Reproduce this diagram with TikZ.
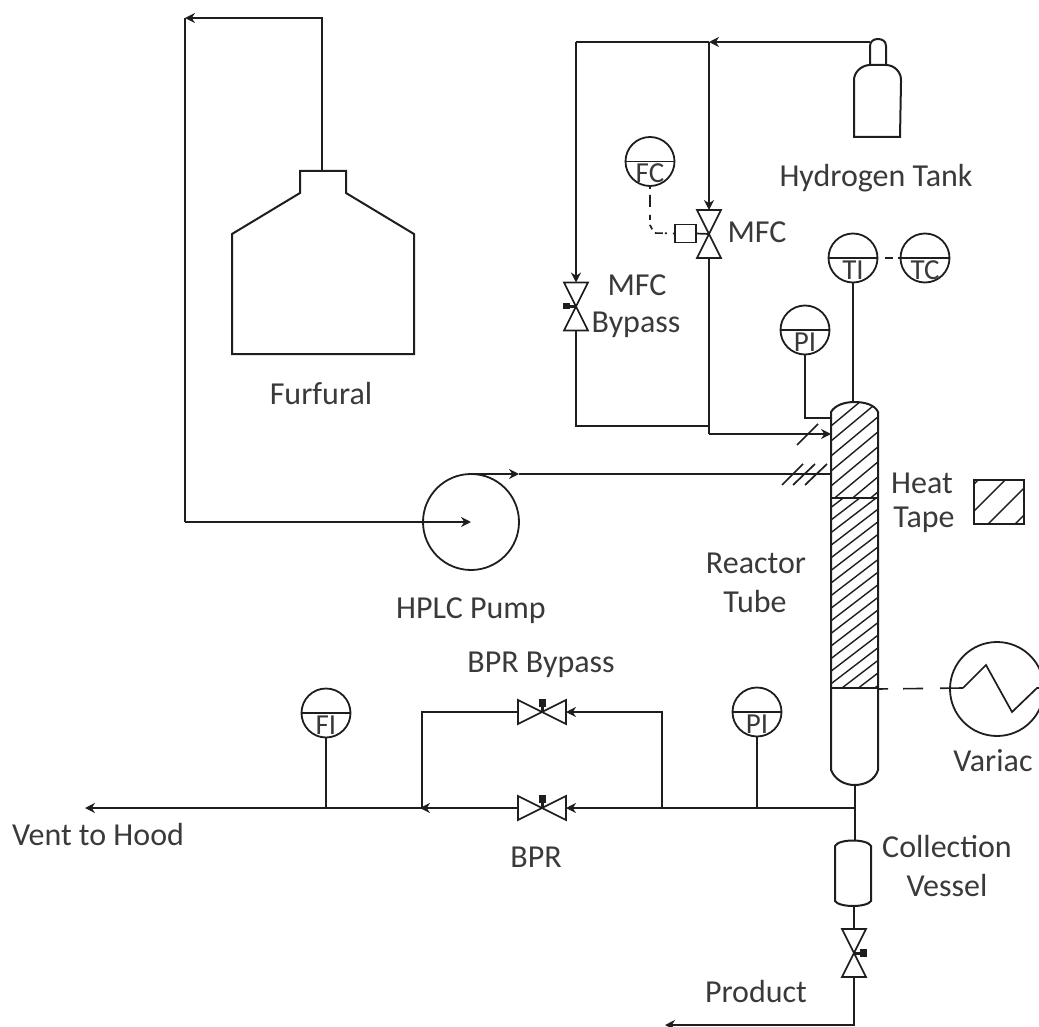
\documentclass[tikz,border=0pt]{standalone}
\usepackage{fontspec}
\setmainfont{Carlito}
\usetikzlibrary{arrows.meta}
\definecolor{lbl}{HTML}{3A3A3A}
\definecolor{ink}{HTML}{1E1E1E}
\tikzset{
  pipe/.style={draw=ink,line width=2pt,line join=miter},
  thin pipe/.style={draw=ink,line width=1.7pt},
  hatchline/.style={draw=ink,line width=1.4pt},
  dashline/.style={draw=ink,line width=1.6pt},
  tip/.style={-{Stealth[length=10pt,width=10pt]}},
  lab/.style={text=lbl,font=\fontsize{32}{36}\selectfont,inner sep=0pt},
  instlab/.style={text=lbl,font=\fontsize{29}{32}\selectfont,inner sep=0pt},
  inst/.style={circle,draw=ink,line width=1.8pt,minimum size=49pt,inner sep=0pt},
  hole/.style={inner sep=0pt,outer sep=0pt},
}
\newcommand{\myinst}[4]{%
  \node[inst] (#1) at (#2,#3) {};
  \draw[thin pipe] (#1.west) -- (#1.east);
  \node[instlab,anchor=center] (#1t) at (#2,#3+12) {#4};
}
\newcommand{\myvv}[3]{% vertical flow bowtie
  \node[hole,minimum width=24pt,minimum height=48pt] (#1) at (#2,#3) {};
  \draw[thin pipe,line join=miter] (#1.north west) -- (#1.north east) -- (#1.south west) -- (#1.south east) -- cycle;
}
\newcommand{\myhv}[3]{% horizontal flow bowtie with top actuator
  \node[hole,minimum width=48pt,minimum height=24pt] (#1) at (#2,#3) {};
  \draw[thin pipe,line join=miter] (#1.north west) -- (#1.south east) -- (#1.north east) -- (#1.south west) -- cycle;
  \fill[ink] (#2-3.5,#3-13) rectangle (#2+3.5,#3-5);
  \fill[ink] (#2-1.5,#3-6) rectangle (#2+1.5,#3);
}
\begin{document}
\begin{tikzpicture}[x=1pt,y=-1pt]
\useasboundingbox (0,0) rectangle (1039,1027);
\clip (0,0) rectangle (1039,1027);

% ---------- furfural
\node[hole,minimum width=182pt,minimum height=183pt] (furf) at (323,262.5) {};
\draw[pipe] (232,234) -- (300,193) -- (300,171) -- (346,171) -- (346,193) -- (414,234) -- (414,354) -- (232,354) -- cycle;
\node[circle,draw=ink,line width=1.8pt,minimum size=96pt,inner sep=0pt] (pump) at (471,522) {};
\coordinate (pumpc) at (471,522);
\coordinate (fl) at (185,522);
\coordinate (fu) at (185,18);
\coordinate (fr) at (322,18);
\draw[pipe,tip] (furf.north -| fr) -- (fr) -- (fu);
\draw[pipe] (fu) -- (fl);
\draw[pipe,tip] (fl) -- (pumpc);

% ---------- reactor
\node[hole,minimum width=47pt,minimum height=383pt] (reactor) at (854.5,593.5) {};
\begin{scope}
\clip (831,412) .. controls (835,405) and (845,402) .. (854.5,402) .. controls (865,402) and (875,405) .. (878,412) -- (878,498) -- (831,498) -- cycle;
\foreach \k in {0,...,9}
  \draw[hatchline] (825,{416+15*\k}) -- ++(60,-50);
\end{scope}
\begin{scope}
\clip (831,498) rectangle (878,688);
\foreach \k in {0,...,20}
  \draw[hatchline] (825,{512+12.6*\k}) -- ++(60,-46);
\end{scope}
\draw[pipe] (831,412) .. controls (835,405) and (845,402) .. (854.5,402) .. controls (865,402) and (875,405) .. (878,412) -- (878,770) .. controls (875,780) and (865,785) .. (854.5,785) .. controls (845,785) and (835,780) .. (831,770) -- cycle;
\draw[pipe] (831,498) -- (878,498);
\draw[pipe] (831,688) -- (878,688);

% ---------- heat tape legend
\node[hole,minimum width=50pt,minimum height=44pt] (tape) at (999,502) {};
\begin{scope}
\clip (974,480) rectangle (1024,524);
\foreach \k in {0,...,3}
  \draw[hatchline] (970,{488+27*\k}) -- ++(60,-60);
\end{scope}
\draw[pipe] (974,480) rectangle (1024,524);

% ---------- hydrogen tank
\node[hole,minimum width=46pt,minimum height=98pt] (tank) at (877,88) {};
\draw[pipe] (870,65) -- (870,46) .. controls (870,41) and (874,39) .. (878,39) .. controls (882,39) and (886,41) .. (886,46) -- (886,65);
\draw[pipe] (854,137) -- (854,82) .. controls (853,72) and (862,65) .. (870,65) -- (886,65) .. controls (894,65) and (902,72) .. (901,82) -- (900,137) -- cycle;

% ---------- hydrogen lines
\myvv{mfc}{709}{234}
\myvv{mfcb}{576}{306.5}
\coordinate (topj) at (709,42);
\coordinate (topl) at (576,42);
\coordinate (midj) at (709,426);
\coordinate (midl) at (576,426);
\coordinate (lowj) at (709,434);
\draw[pipe,tip] (870,42) -- (topj);
\draw[pipe] (topj) -- (topl);
\draw[pipe,tip] (topj) -- (mfc.north);
\draw[pipe,tip] (topl) -- (mfcb.north);
\draw[pipe] (mfcb.south) -- (midl) -- (midj);
\draw[pipe] (mfc.south) -- (lowj);
\draw[pipe,tip] (lowj) -- (reactor.west |- lowj);
\draw[thin pipe] (797,445) -- (818,424);
% mfc actuator
\node[hole,draw=ink,line width=1.7pt,minimum width=21pt,minimum height=18pt] (mfcact) at (685.5,233.5) {};
\draw[thin pipe] (mfcact.east) -- (mfc.center);
% mfc bypass actuator
\fill[ink] (563,303) rectangle (570,309);
\fill[ink] (569,305) rectangle (576,308);

% ---------- instruments
\myinst{fc}{650}{161.5}{FC}
\myinst{ti}{853}{258}{TI}
\myinst{tc}{925}{258}{TC}
\myinst{pia}{805}{330}{PI}
\myinst{pib}{757}{712}{PI}
\myinst{fi}{326}{713}{FI}
\draw[dashline,dash pattern=on 2pt off 6pt on 12pt off 8pt on 5pt off 5pt on 5pt off 5pt on 8pt off 2pt] (fc.south) -- (650,225) -- (654,233) -- (mfcact.west);
\draw[dashline,dash pattern=on 0pt off 7pt on 8pt off 5pt on 8pt off 30pt] (ti.east) -- (tc.west);
\draw[pipe] (ti.south) -- (ti.south |- reactor.north);
\coordinate (piaj) at (805,418);
\draw[pipe] (pia.south) -- (piaj) -- (reactor.west |- piaj);

% ---------- pump line
\coordinate (pumpt) at (471,474);
\coordinate (pumpa) at (519,474);
\draw[pipe,tip] (pumpt) -- (pumpa);
\draw[pipe] (pumpa) -- (reactor.west |- pumpa);
\draw[thin pipe] (782,485) -- (803,464);
\draw[thin pipe] (793,485) -- (815,464);
\draw[thin pipe] (805,485) -- (827,464);

% ---------- variac
\node[circle,draw=ink,line width=1.8pt,minimum size=94pt,inner sep=0pt] (variac) at (997,689) {};
\draw[thin pipe] (963,688) -- (986,665) -- (1012,712) -- (1037,688) -- (1045,688);
\draw[dashline,dash pattern=on 10pt off 15pt on 20pt off 17pt on 30pt] (reactor.east |- variac.west) -- (963,688);

% ---------- bottom line
\coordinate (botj) at (855,808);
\coordinate (byr) at (662,808);
\coordinate (byl) at (422,808);
\coordinate (byrt) at (662,712);
\coordinate (bylt) at (422,712);
\coordinate (vent) at (85,808);
\myhv{bpr}{542}{808}
\myhv{bprb}{542}{712}
\draw[pipe] (reactor.south -| botj) -- (botj);
\draw[pipe,tip] (botj) -- (bpr.east);
\draw[pipe,tip] (byr) -- (byrt) -- (bprb.east);
\draw[pipe] (bprb.west) -- (bylt) -- (byl);
\draw[pipe] (bpr.west) -- (byl);
\draw[pipe,tip] (427,808) -- (420,808);
\draw[pipe,tip] (byl) -- (vent);
\draw[pipe] (pib.south) -- (pib.south |- botj);
\draw[pipe] (fi.south) -- (fi.south |- botj);

% ---------- collection vessel
\node[hole,minimum width=36pt,minimum height=66pt] (coll) at (853,873) {};
\draw[pipe] (835,846) .. controls (837,842) and (846,840.5) .. (853,840.5) .. controls (860,840.5) and (869,842) .. (871,846) -- (871,901) .. controls (869,904.5) and (860,906) .. (853,906) .. controls (846,906) and (837,904.5) .. (835,901) -- cycle;
\draw[pipe] (botj) -- (botj |- coll.north);
\myvv{prodv}{854}{953}
\fill[ink] (860,949) rectangle (867,957);
\fill[ink] (854,951.5) rectangle (861,954.5);
\coordinate (prodc) at (854,1025);
\coordinate (prode) at (665,1025);
\draw[pipe] (coll.south -| prodv) -- (prodv.north);
\draw[pipe,tip] (prodv.south) -- (prodc) -- (prode);

% ---------- labels
\node[lab] (l1) at (876,178) {Hydrogen Tank};
\node[lab] (l2) at (321,394) {Furfural};
\node[lab] (l3) at (757,232) {MFC};
\node[lab] (l4) at (637,285) {MFC};
\node[lab] (l5) at (636,325) {Bypass};
\node[lab] (l6) at (922,483) {Heat};
\node[lab] (l7) at (924,520) {Tape};
\node[lab] (l8) at (756,563) {Reactor};
\node[lab] (l9) at (755,602) {Tube};
\node[lab] (l10) at (471,611) {HPLC Pump};
\node[lab] (l11) at (541,665) {BPR Bypass};
\node[lab] (l12) at (536,857) {BPR};
\node[lab] (l13) at (98,835) {Vent to Hood};
\node[lab] (l14) at (993,761) {Variac};
\node[lab] (l15) at (947,847) {Collection};
\node[lab] (l16) at (947,886) {Vessel};
\node[lab] (l17) at (756,991) {Product};
\end{tikzpicture}
\end{document}
